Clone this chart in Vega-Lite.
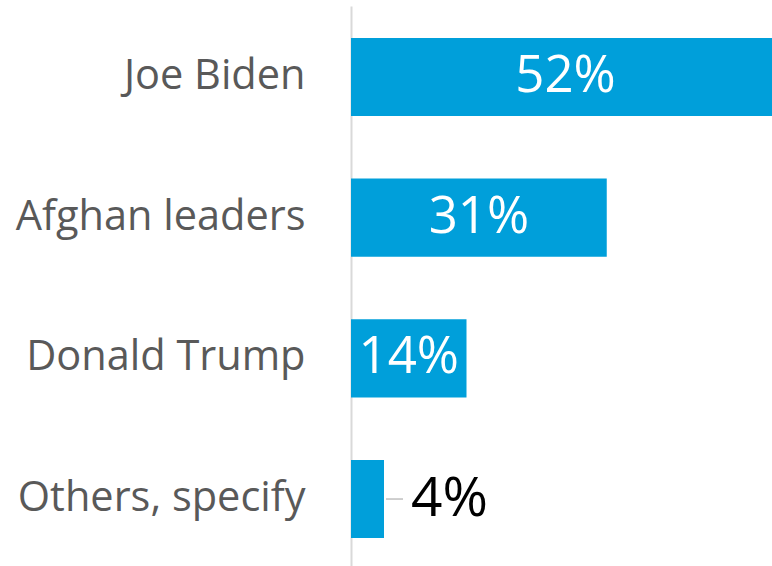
{
  "$schema": "https://vega.github.io/schema/vega-lite/v6.json",
  "width": 421,
  "height": 560,
  "autosize": {"type": "none"},
  "padding": {"left": 351, "top": 6, "right": 0, "bottom": 0},
  "background": "white",
  "config": {"view": {"stroke": null}, "font": "Open Sans"},
  "data": {
    "values": [
      {"who": "Joe Biden", "pct": 52, "label": "52%", "inside": true},
      {"who": "Afghan leaders", "pct": 31, "label": "31%", "inside": true},
      {"who": "Donald Trump", "pct": 14, "label": "14%", "inside": true},
      {"who": "Others, specify", "pct": 4, "label": "4%", "inside": false}
    ]
  },
  "transform": [{"calculate": "datum.pct / 2", "as": "mid"}],
  "encoding": {
    "y": {
      "field": "who",
      "type": "nominal",
      "sort": null,
      "scale": {"range": [0, 564], "paddingInner": 0.445, "paddingOuter": 0.227},
      "axis": {
        "title": null,
        "ticks": false,
        "labelFont": "Open Sans",
        "labelFontSize": 41.5,
        "labelColor": "#595959",
        "labelPadding": 46,
        "domainColor": "#d9d9d9",
        "domainWidth": 2,
        "labelLimit": 400
      }
    }
  },
  "layer": [
    {
      "mark": {"type": "bar", "color": "#009FDA", "clip": true},
      "encoding": {
        "x": {
          "field": "pct",
          "type": "quantitative",
          "scale": {"domain": [0, 52], "range": [0, 429]},
          "axis": null
        }
      }
    },
    {
      "transform": [{"filter": "datum.inside"}],
      "mark": {"type": "text", "color": "white", "fontSize": 51, "align": "center", "baseline": "middle", "font": "Open Sans"},
      "encoding": {
        "x": {"field": "mid", "type": "quantitative", "scale": {"domain": [0, 52], "range": [0, 429]}},
        "text": {"field": "label"}
      }
    },
    {
      "transform": [{"filter": "!datum.inside"}],
      "mark": {"type": "rule", "color": "#bfbfbf", "strokeWidth": 1.5, "xOffset": 2, "x2Offset": 19},
      "encoding": {
        "x": {"field": "pct", "type": "quantitative", "scale": {"domain": [0, 52], "range": [0, 429]}},
        "x2": {"field": "pct"}
      }
    },
    {
      "transform": [{"filter": "!datum.inside"}],
      "mark": {"type": "text", "color": "black", "fontSize": 55, "align": "left", "baseline": "middle", "dx": 27, "font": "Open Sans"},
      "encoding": {
        "x": {"field": "pct", "type": "quantitative", "scale": {"domain": [0, 52], "range": [0, 429]}},
        "text": {"field": "label"}
      }
    }
  ]
}
